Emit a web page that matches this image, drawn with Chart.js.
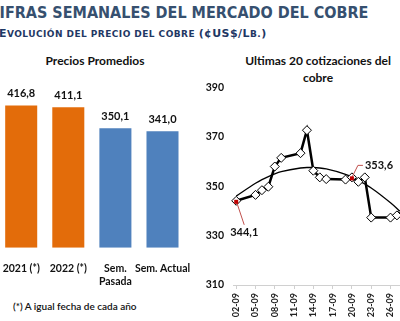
<!DOCTYPE html>
<html>
<head>
<meta charset="utf-8">
<script src="https://cdn.jsdelivr.net/npm/chart.js@4.4.0/dist/chart.umd.min.js"></script>
<style>
  html, body { margin: 0; padding: 0; background: #fff; }
  body { width: 400px; height: 321px; overflow: hidden; position: relative; }
  .head1 { position: absolute; left: -11px; top: 3px; white-space: nowrap;
    font: bold 16px "DejaVu Sans Condensed", "DejaVu Sans", sans-serif; font-stretch: condensed; color: #36506f; }
  .head2 { position: absolute; left: -1px; top: 27px; white-space: nowrap; letter-spacing: 0.45px;
    font: bold 9px "DejaVu Sans", Verdana, sans-serif; color: #1f3864; }
  .head2 .cap { font-size: 11px; }
  .ttl { position: absolute; text-align: center; font: bold 12px Lato, "Open Sans", sans-serif; color: #111; line-height: 17px; }
  .note { position: absolute; left: 13px; top: 300px; font: 600 10px Lato, sans-serif; color: #111; }
  canvas { position: absolute; }
</style>
</head>
<body>
<div class="head1">CIFRAS SEMANALES DEL MERCADO DEL COBRE</div>
<div class="head2"><span class="cap">E</span>VOLUCIÓN DEL PRECIO DEL COBRE <span class="cap">(¢US$/L</span>B.<span class="cap">)</span></div>
<div class="ttl" style="left:20px; top:52px; width:150px;">Precios Promedios</div>
<div class="ttl" style="left:238px; top:52px; width:160px;">Ultimas 20 cotizaciones del<br>cobre</div>
<div class="note">(*) A igual fecha de cada año</div>

<canvas id="avgChart" width="200" height="218" style="left:-3px; top:77px;"></canvas>
<canvas id="quoteChart" width="240" height="243" style="left:200px; top:82px;"></canvas>

<script>
'use strict';

// average prices (bars)
const avgLabels = [['2021 (*)'], ['2022 (*)'], ['Sem.', 'Pasada'], ['Sem. Actual']]
const avgValues = [416.8, 411.1, 350.1, 341.0]
const avgColors = ['#e36c0a', '#e36c0a', '#4f81bd', '#4f81bd']

// last 20 daily quotes, day of September
const quoteDays = [2, 5, 6, 7, 8, 9, 12, 13, 14, 15, 16, 19, 20, 21, 22, 23, 26, 27, 28, 29]
const quoteValues = [344.1, 346.5, 348.4, 349.8, 358.0, 361.5, 363.4, 372.7, 356.3, 353.6,
  352.9, 352.7, 353.6, 351.8, 353.6, 337.3, 337.3, 338.2, 339.8, 341.2]
// polynomial trend
const trendValues = [346.0, 351.2, 352.7, 353.9, 355.0, 355.9, 357.4, 357.6, 357.6, 357.4,
  357.0, 354.8, 353.7, 352.4, 350.9, 349.3, 343.3, 341.0, 338.4, 335.7]
const tickDays = [2, 5, 8, 11, 14, 17, 20, 23, 26, 29]
const tickLabels = ['02-09', '05-09', '08-09', '11-09', '14-09', '17-09', '20-09', '23-09', '26-09', '29-09']
const yTicks = [310, 330, 350, 370, 390]

// value labels called out with a red leader
const callouts = [
  { day: 2, value: 344.1, dx: 8, dy: 32 },
  { day: 20, value: 353.6, dx: 13, dy: -12 }
]

const fmt = v => v.toFixed(1).replace('.', ',')

// draws the value above each bar
const barValuePlugin = {
  id: 'barValues',
  afterDatasetsDraw(chart) {
    const ctx = chart.ctx
    const meta = chart.getDatasetMeta(0)
    ctx.save()
    ctx.font = 'bold 11px Lato, sans-serif'
    ctx.fillStyle = '#111'
    ctx.textAlign = 'center'
    ctx.textBaseline = 'bottom'
    meta.data.forEach((bar, i) => {
      ctx.fillText(fmt(avgValues[i]), bar.x, bar.y - 6)
    })
    ctx.restore()
  }
}

// y tick labels, right aligned against the plot
const yLabelPlugin = {
  id: 'yLabels',
  afterDraw(chart) {
    const ctx = chart.ctx
    const ys = chart.scales.y
    ctx.save()
    ctx.font = 'bold 10.5px Lato, sans-serif'
    ctx.fillStyle = '#111'
    ctx.textAlign = 'right'
    ctx.textBaseline = 'middle'
    ys.ticks.forEach(t => {
      ctx.fillText(String(t.value), ys.right - 9, ys.getPixelForValue(t.value))
    })
    ctx.restore()
  }
}

// draws the callout labels for the first and highlighted quotes
const calloutPlugin = {
  id: 'callouts',
  afterDatasetsDraw(chart) {
    const ctx = chart.ctx
    const xs = chart.scales.x
    const ys = chart.scales.y
    ctx.save()
    callouts.forEach(c => {
      const px = xs.getPixelForValue(c.day)
      const py = ys.getPixelForValue(c.value)
      const lx = px + c.dx
      const ly = py + c.dy
      ctx.strokeStyle = '#c0504d'
      ctx.lineWidth = 1
      ctx.beginPath()
      ctx.moveTo(px, py)
      if (c.dy < 0) {
        ctx.lineTo(px + 6, ly)
        ctx.lineTo(lx - 2, ly)
      } else {
        ctx.lineTo(lx, ly - 8)
      }
      ctx.stroke()
      ctx.fillStyle = '#c00000'
      ctx.fillRect(px - 2, py - 1, 4, 4)
      ctx.font = 'bold 11px Lato, sans-serif'
      ctx.fillStyle = '#111'
      ctx.textBaseline = 'middle'
      ctx.textAlign = c.dy < 0 ? 'left' : 'center'
      ctx.fillText(fmt(c.value), lx, ly)
    })
    ctx.restore()
  }
}

const buildAvgChart = () => {
  new Chart(document.getElementById('avgChart'), {
    type: 'bar',
    data: {
      labels: avgLabels,
      datasets: [{
        data: avgValues,
        backgroundColor: avgColors,
        categoryPercentage: 1,
        barPercentage: 0.68
      }]
    },
    options: {
      responsive: false,
      animation: false,
      layout: { padding: 0 },
      plugins: { legend: { display: false }, tooltip: { enabled: false } },
      scales: {
        x: {
          grid: { display: false },
          border: { display: false },
          ticks: {
            color: '#111',
            font: { family: 'Lato', size: 10.5, weight: 'bold' },
            padding: 7,
            maxRotation: 0,
            autoSkip: false
          }
        },
        y: {
          display: false,
          min: 0,
          max: 500
        }
      }
    },
    plugins: [barValuePlugin]
  })
}

const buildQuoteChart = () => {
  new Chart(document.getElementById('quoteChart'), {
    type: 'line',
    data: {
      datasets: [
        {
          data: quoteDays.map((d, i) => ({ x: d, y: quoteValues[i] })),
          borderColor: '#000',
          borderWidth: 2.5,
          tension: 0,
          pointStyle: 'rectRot',
          pointRadius: 4.5,
          pointBackgroundColor: '#fff',
          pointBorderColor: '#000',
          pointBorderWidth: 1,
          order: 1
        },
        {
          data: quoteDays.map((d, i) => ({ x: d, y: trendValues[i] })),
          borderColor: '#000',
          borderWidth: 1.3,
          tension: 0.4,
          cubicInterpolationMode: 'monotone',
          pointRadius: 0,
          order: 2
        }
      ]
    },
    options: {
      responsive: false,
      animation: false,
      clip: false,
      layout: { padding: { top: 0, right: 27, left: 0, bottom: 0 } },
      plugins: { legend: { display: false }, tooltip: { enabled: false } },
      scales: {
        x: {
          type: 'linear',
          min: 1.5,
          max: 29.5,
          afterBuildTicks: s => { s.ticks = tickDays.map(v => ({ value: v })) },
          ticks: {
            color: '#222',
            font: { family: 'Lato', size: 9, weight: 'bold' },
            minRotation: 90,
            maxRotation: 90,
            padding: 4,
            callback: v => tickLabels[tickDays.indexOf(v)]
          },
          grid: { drawOnChartArea: false, drawTicks: true, tickLength: 4, color: '#d0d0d0' },
          border: { display: true, color: '#d0d0d0' },
          afterFit: s => { s.height = 40 }
        },
        y: {
          min: 310,
          max: 390,
          afterBuildTicks: s => { s.ticks = yTicks.map(v => ({ value: v })) },
          ticks: { display: false },
          grid: { display: false, drawTicks: false },
          border: { display: false },
          afterFit: s => { s.width = 33 }
        }
      }
    },
    plugins: [calloutPlugin, yLabelPlugin]
  })
}

buildAvgChart()
buildQuoteChart()
</script>
</body>
</html>
